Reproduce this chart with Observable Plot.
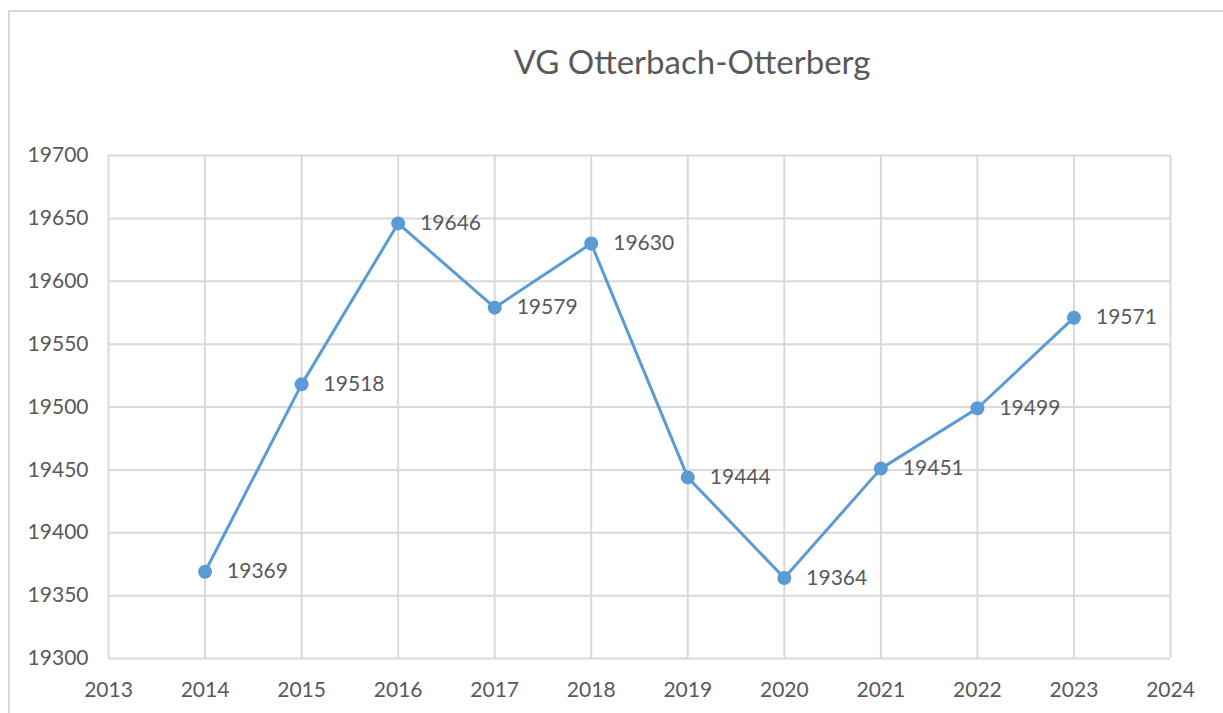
<!DOCTYPE html>
<html>
<head>
<meta charset="utf-8">
<script src="https://cdn.jsdelivr.net/npm/d3@7"></script>
<script src="https://cdn.jsdelivr.net/npm/@observablehq/plot@0.6"></script>
<style>
  html, body { margin: 0; padding: 0; background: #fff; }
  #wrap { position: relative; width: 1223px; height: 713px; overflow: hidden; }
  #frame { position: absolute; left: 8px; top: 10px; width: 1300px; height: 800px; border: 2px solid #d9d9d9; box-sizing: border-box; }
  #title { position: absolute; left: 392px; width: 600px; top: 41px; text-align: center;
           font-family: Lato, sans-serif; font-size: 33px; color: #595959; line-height: 40px; }
  #chart { position: absolute; left: 0; top: 110px; }
</style>
</head>
<body>
<div id="wrap">
  <div id="frame"></div>
  <div id="title">VG Otterbach-Otterberg</div>
  <div id="chart"></div>
</div>
<script>
const years = [2014, 2015, 2016, 2017, 2018, 2019, 2020, 2021, 2022, 2023];
const values = [19369, 19518, 19646, 19579, 19630, 19444, 19364, 19451, 19499, 19571];
const xTicks = [2013, 2014, 2015, 2016, 2017, 2018, 2019, 2020, 2021, 2022, 2023, 2024];
const yTicks = [19300, 19350, 19400, 19450, 19500, 19550, 19600, 19650, 19700];

const data = years.map((y, i) => ({year: y, value: values[i]}));

const chart = Plot.plot({
  width: 1223,
  height: 603,
  marginLeft: 108,
  marginRight: 53,
  marginTop: 45,
  marginBottom: 55,
  style: {fontFamily: "Lato, sans-serif", fontSize: "21px", color: "#595959", background: "transparent"},
  x: {domain: [2013, 2024], ticks: xTicks, tickFormat: d => String(d), tickSize: 0, tickPadding: 24, label: null},
  y: {domain: [19300, 19700], ticks: yTicks, tickFormat: d => String(d), tickSize: 0, tickPadding: 20, label: null},
  marks: [
    Plot.ruleX(xTicks, {stroke: "#d9d9d9", strokeWidth: 2, strokeOpacity: 1}),
    Plot.ruleY(yTicks, {stroke: "#d9d9d9", strokeWidth: 2, strokeOpacity: 1}),
    Plot.axisX({ticks: xTicks, tickFormat: d => String(d), tickSize: 0, tickPadding: 24, fill: "#595959", fontSize: 21}),
    Plot.axisY({ticks: yTicks, tickFormat: d => String(d), tickSize: 0, tickPadding: 20, fill: "#595959", fontSize: 21}),
    Plot.line(data, {x: "year", y: "value", stroke: "#5b9bd5", strokeWidth: 3}),
    Plot.dot(data, {x: "year", y: "value", r: 7, fill: "#5b9bd5", stroke: "none"}),
    Plot.text(data, {x: "year", y: "value", text: d => String(d.value), dx: 22, textAnchor: "start", fill: "#595959", fontSize: 21})
  ]
});
document.getElementById("chart").appendChild(chart);
</script>
</body>
</html>
